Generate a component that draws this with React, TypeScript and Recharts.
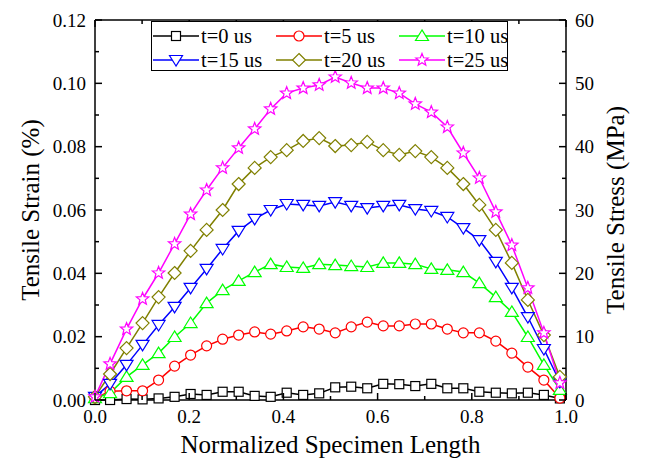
import React from 'react';
import { LineChart, Line, XAxis, YAxis, Legend } from 'recharts';

const xs = [0, 0.032, 0.067, 0.101, 0.135, 0.169, 0.203, 0.237, 0.271, 0.305, 0.339, 0.373, 0.407, 0.442, 0.476, 0.510, 0.544, 0.578, 0.612, 0.646, 0.680, 0.714, 0.748, 0.782, 0.816, 0.851, 0.885, 0.919, 0.953, 0.987, 1.0];

const t0 = [0, 0, 0.0003, 0.0002, 0.0005, 0.001, 0.0019, 0.0016, 0.0026, 0.0026, 0.0013, 0.001, 0.0023, 0.0016, 0.0021, 0.004, 0.0042, 0.0037, 0.0051, 0.005, 0.0044, 0.0051, 0.0037, 0.0037, 0.0026, 0.0023, 0.0021, 0.0023, 0.0016, 0.0005, 0];
const t5 = [0.0006, 0.0028, 0.0029, 0.0029, 0.0063, 0.0107, 0.0142, 0.0171, 0.0192, 0.0205, 0.0215, 0.0208, 0.0218, 0.0231, 0.0224, 0.0212, 0.0231, 0.0246, 0.0234, 0.0234, 0.024, 0.024, 0.0224, 0.0212, 0.0212, 0.0186, 0.0148, 0.0104, 0.0063, 0.0006, 0];
const t10 = [0.0006, 0.0022, 0.0073, 0.0111, 0.0148, 0.0199, 0.0243, 0.0306, 0.0347, 0.0376, 0.0404, 0.0429, 0.042, 0.0417, 0.0429, 0.0426, 0.0423, 0.042, 0.0433, 0.0433, 0.0429, 0.0414, 0.0411, 0.0404, 0.0369, 0.0325, 0.0278, 0.0199, 0.0111, 0.0032, 0];
const t15 = [0.001, 0.0051, 0.0111, 0.0174, 0.0237, 0.0294, 0.0354, 0.0414, 0.0477, 0.0534, 0.0572, 0.06, 0.0619, 0.0616, 0.0613, 0.0625, 0.0613, 0.0606, 0.0613, 0.0616, 0.0603, 0.0597, 0.0578, 0.0543, 0.0505, 0.0436, 0.0354, 0.0262, 0.0161, 0.0057, 0];
const t20 = [0.001, 0.0082, 0.0164, 0.0243, 0.0325, 0.0401, 0.0471, 0.0537, 0.06, 0.0682, 0.0733, 0.0767, 0.0789, 0.0818, 0.0827, 0.0802, 0.0805, 0.0815, 0.0789, 0.0774, 0.0786, 0.0767, 0.0733, 0.0682, 0.0616, 0.0537, 0.0433, 0.0316, 0.0205, 0.0073, 0];
const t25 = [0.001, 0.0114, 0.0224, 0.0319, 0.0401, 0.0493, 0.0587, 0.0663, 0.0733, 0.0796, 0.0856, 0.0919, 0.0969, 0.0985, 0.0995, 0.102, 0.1001, 0.0985, 0.0985, 0.0969, 0.0935, 0.0909, 0.0862, 0.078, 0.0701, 0.0594, 0.0489, 0.0354, 0.0212, 0.0054, 0];

const seriesNames = ['t=0 us', 't=5 us', 't=10 us', 't=15 us', 't=20 us', 't=25 us'];
const seriesColors = ['#000000', '#FF0000', '#00FF00', '#0000FF', '#808000', '#FF00FF'];
const seriesShapes = ['square', 'circle', 'triUp', 'triDown', 'diamond', 'star'];
const seriesValues = [t0, t5, t10, t15, t20, t25];

const strainTicks = [0, 0.01, 0.02, 0.03, 0.04, 0.05, 0.06, 0.07, 0.08, 0.09, 0.1, 0.11, 0.12];
const stressTicks = [0, 5, 10, 15, 20, 25, 30, 35, 40, 45, 50, 55, 60];
const lengthTicks = [0, 0.1, 0.2, 0.3, 0.4, 0.5, 0.6, 0.7, 0.8, 0.9, 1.0];

const data = xs.map((x, i) => {
  const row: any = { x };
  seriesValues.forEach((vals, s) => { row['s' + s] = vals[i]; });
  return row;
});

const FONT = 'Liberation Serif, DejaVu Serif, Times New Roman, serif';
const txt = { fontFamily: FONT, fill: '#000' };

function markerShape(shape: string, cx: number, cy: number, color: string, key?: any) {
  const common = { fill: '#ffffff', stroke: color, strokeWidth: 1.2 };
  switch (shape) {
    case 'square':
      return <rect key={key} x={cx - 4.5} y={cy - 4.5} width={9} height={9} {...common} />;
    case 'circle':
      return <circle key={key} cx={cx} cy={cy} r={5} {...common} />;
    case 'triUp':
      return <polygon key={key} points={`${cx},${cy - 6} ${cx - 6.5},${cy + 4.5} ${cx + 6.5},${cy + 4.5}`} {...common} />;
    case 'triDown':
      return <polygon key={key} points={`${cx},${cy + 6} ${cx - 6.5},${cy - 4.5} ${cx + 6.5},${cy - 4.5}`} {...common} />;
    case 'diamond':
      return <polygon key={key} points={`${cx},${cy - 6.5} ${cx + 6.5},${cy} ${cx},${cy + 6.5} ${cx - 6.5},${cy}`} {...common} />;
    case 'star': {
      const pts: string[] = [];
      for (let k = 0; k < 10; k++) {
        const r = k % 2 === 0 ? 6.5 : 2.8;
        const a = -Math.PI / 2 + (k * Math.PI) / 5;
        pts.push(`${cx + r * Math.cos(a)},${cy + r * Math.sin(a)}`);
      }
      return <polygon key={key} points={pts.join(' ')} {...common} />;
    }
  }
  return <g key={key} />;
}

const LeftTick = (props: any) => {
  const { x, y, payload, index } = props;
  const major = index % 2 === 0;
  return (
    <g>
      <line x1={x} y1={y} x2={x + (major ? 7 : 4)} y2={y} stroke="#000" strokeWidth={1.5} />
      {major && (
        <text x={x - 9} y={y + 6.5} textAnchor="end" fontSize={19} style={txt}>
          {payload.value.toFixed(2)}
        </text>
      )}
    </g>
  );
};

const RightTick = (props: any) => {
  const { x, y, payload, index } = props;
  const major = index % 2 === 0;
  return (
    <g>
      <line x1={x} y1={y} x2={x - (major ? 7 : 4)} y2={y} stroke="#000" strokeWidth={1.5} />
      {major && (
        <text x={x + 9} y={y + 6.5} textAnchor="start" fontSize={19} style={txt}>
          {String(payload.value)}
        </text>
      )}
    </g>
  );
};

const BottomTick = (props: any) => {
  const { x, y, payload, index } = props;
  const major = index % 2 === 0;
  return (
    <g>
      <line x1={x} y1={y} x2={x} y2={y - (major ? 7 : 4)} stroke="#000" strokeWidth={1.5} />
      {major && (
        <text x={x} y={y + 23} textAnchor="middle" fontSize={19} style={txt}>
          {payload.value.toFixed(1)}
        </text>
      )}
    </g>
  );
};

const TopTick = (props: any) => {
  const { x, y, index } = props;
  const major = index % 2 === 0;
  return <line x1={x} y1={y} x2={x} y2={y + (major ? 7 : 4)} stroke="#000" strokeWidth={1.5} />;
};

const renderLegend = () => {
  const colX = [0, 123, 246];
  const rowY = [14, 38];
  return (
    <div style={{ width: 357, height: 50, border: '1px solid #000', boxSizing: 'border-box', background: '#fff' }}>
      <svg width={355} height={48} style={{ display: 'block' }}>
        {seriesNames.map((name, i) => {
          const cx = colX[i % 3];
          const cy = rowY[Math.floor(i / 3)];
          return (
            <g key={name}>
              <line x1={cx + 1} y1={cy} x2={cx + 47} y2={cy} stroke={seriesColors[i]} strokeWidth={1.5} />
              {markerShape(seriesShapes[i], cx + 24, cy, seriesColors[i])}
              <text x={cx + 49} y={cy + 7} fontSize={20.5} style={txt}>{name}</text>
            </g>
          );
        })}
      </svg>
    </div>
  );
};

export default function App() {
  return (
    <div style={{ position: 'absolute', left: 0, top: 0, width: 646, height: 461, background: '#fff' }}>
      <LineChart width={646} height={461} data={data} margin={{ top: 19, right: 20, bottom: 0, left: 35 }}>
        <XAxis xAxisId="bottom" dataKey="x" type="number" domain={[0, 1]} ticks={lengthTicks} interval={0}
          height={61} tickSize={0} tickMargin={0} tickLine={false} tick={<BottomTick />}
          axisLine={{ stroke: '#000', strokeWidth: 1.5 }}
          label={{ content: () => (
            <text x={330.5} y={453} textAnchor="middle" fontSize={25} style={txt}>Normalized Specimen Length</text>
          ) }} />
        <XAxis xAxisId="top" orientation="top" dataKey="x" type="number" domain={[0, 1]} ticks={lengthTicks} interval={0}
          allowDataOverflow height={1} tickSize={0} tickMargin={0} tickLine={false} tick={<TopTick />}
          axisLine={{ stroke: '#000', strokeWidth: 1.5 }} />
        <YAxis yAxisId="left" type="number" domain={[0, 0.12]} ticks={strainTicks} interval={0}
          width={60} tickSize={0} tickMargin={0} tickLine={false} tick={<LeftTick />}
          axisLine={{ stroke: '#000', strokeWidth: 1.5 }}
          label={{ content: () => (
            <text x={39} y={210} transform="rotate(-90, 39, 210)" textAnchor="middle" fontSize={25} style={txt}>Tensile Strain (%)</text>
          ) }} />
        <YAxis yAxisId="right" orientation="right" type="number" domain={[0, 60]} ticks={stressTicks} interval={0}
          allowDataOverflow width={60} tickSize={0} tickMargin={0} tickLine={false} tick={<RightTick />}
          axisLine={{ stroke: '#000', strokeWidth: 1.5 }}
          label={{ content: () => (
            <text x={624} y={210} transform="rotate(-90, 624, 210)" textAnchor="middle" fontSize={25} style={txt}>Tensile Stress (MPa)</text>
          ) }} />
        <Legend layout="horizontal" verticalAlign="middle" align="center" content={renderLegend}
          wrapperStyle={{ left: 151, top: 21, width: 357, height: 50 }} />
        <Line xAxisId="top" yAxisId="right" dataKey="s5" stroke="none" dot={false} activeDot={false}
          legendType="none" isAnimationActive={false} />
        {seriesNames.map((name, s) => (
          <Line key={name} xAxisId="bottom" yAxisId="left" type="linear" dataKey={'s' + s} name={name}
            stroke={seriesColors[s]} strokeWidth={1.5} isAnimationActive={false} activeDot={false}
            dot={(p: any) => (p.index === xs.length - 1 ? <g key={p.key ?? p.index} /> : markerShape(seriesShapes[s], p.cx, p.cy, seriesColors[s], p.key ?? p.index))} />
        ))}
      </LineChart>
    </div>
  );
}
